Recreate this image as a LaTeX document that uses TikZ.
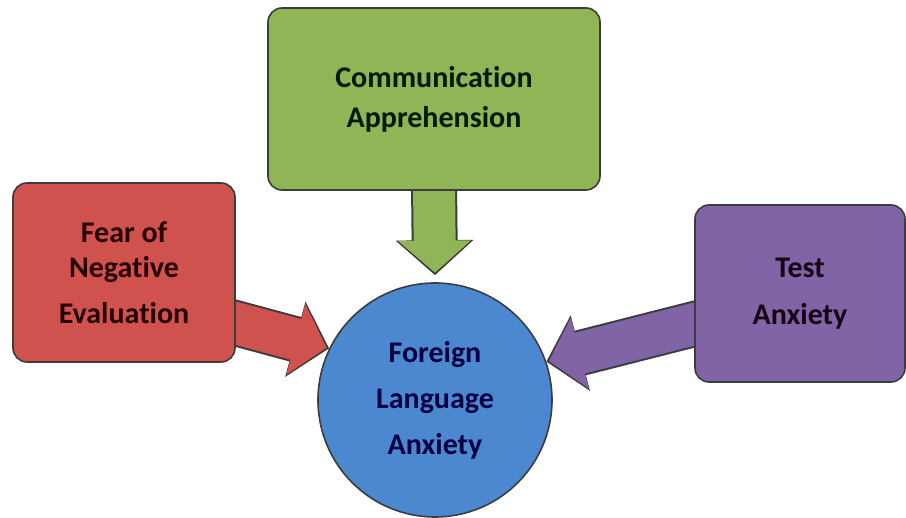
\documentclass[tikz,border=0pt]{standalone}
\usepackage{fontspec}
\setmainfont[Ligatures=NoCommon]{Carlito}
\usetikzlibrary{arrows.meta,positioning,backgrounds}

\definecolor{boxgreen}{RGB}{143,181,86}
\definecolor{boxred}{RGB}{208,82,78}
\definecolor{boxpurple}{RGB}{128,100,166}
\definecolor{ballblue}{RGB}{76,136,208}
\definecolor{edge}{RGB}{60,60,60}

\begin{document}
\begin{tikzpicture}[x=1pt, y=1pt,
    cause/.style={rectangle, rounded corners=14pt, draw=edge, line width=1.6pt, inner sep=0pt, align=center, font=\fontsize{30}{40}\selectfont\bfseries},
    core/.style={circle, draw=edge, line width=1.6pt, fill=ballblue, minimum size=234pt, inner sep=0pt, align=center, font=\fontsize{30}{46}\selectfont\bfseries, text=blue!25!black},
    rim/.style={line width=46pt, draw=edge, -{Triangle[length=35pt, width=76pt]}},
    pipe/.style={line width=42pt, -{Triangle[length=32pt, width=71pt]}, shorten >=2.5pt}]

    \useasboundingbox (0,0) rectangle (906,518);

    % the three causes and the centre
    \node[cause, fill=boxgreen, text=green!10!black, minimum width=332pt, minimum height=182pt] (ca) at (434,419) {Communication\\Apprehension};
    \node[cause, fill=boxred, text=red!15!black, minimum width=222pt, minimum height=179pt, font=\fontsize{30}{35}\selectfont\bfseries] (fne) at (124,245.5) {Fear of\\Negative\\[11pt]Evaluation};
    \node[cause, fill=boxpurple, text=violet!15!black, minimum width=210pt, minimum height=177pt, font=\fontsize{30}{47}\selectfont\bfseries] (ta) at (800,224.5) {Test\\Anxiety};
    \node[core] (fla) at (435,118) {Foreign\\Language\\Anxiety};

    \coordinate (ca-out) at ([yshift=8pt]ca.south);
    \coordinate (fne-out) at ([shift={(-10pt,-48pt)}]fne.east);
    \coordinate (ta-out) at ([shift={(10pt,-28pt)}]ta.west);

    % block arrows behind the shapes
    \begin{scope}[on background layer]
        \draw[rim] (ca-out) -- ([yshift=7pt]fla.north);
        \draw[pipe, boxgreen] (ca-out) -- ([yshift=7pt]fla.north);
        \draw[rim] (fne-out) -- (fla.154);
        \draw[pipe, boxred] (fne-out) -- (fla.154);
        \draw[rim] (ta-out) -- (fla.19);
        \draw[pipe, boxpurple] (ta-out) -- (fla.19);
    \end{scope}
\end{tikzpicture}
\end{document}
